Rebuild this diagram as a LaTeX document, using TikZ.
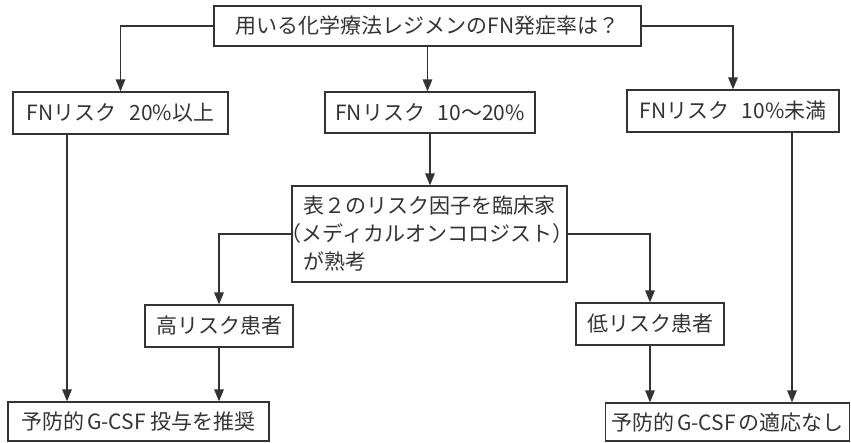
\documentclass[tikz,border=0pt]{standalone}
\usepackage{fontspec}
\setmainfont{Noto Sans CJK JP}
\usetikzlibrary{arrows.meta}
\definecolor{ink}{HTML}{333333}
\begin{document}
\begin{tikzpicture}[x=1pt,y=-1pt,
  box/.style={draw=ink, line width=1.2pt, text=ink, inner sep=0pt,
    font=\fontsize{21}{28}\selectfont, align=center},
  arr/.style={draw=ink, line width=1.4pt, -{Triangle[length=12pt,width=9.5pt]}},
  ln/.style={draw=ink, line width=1.4pt}]
\useasboundingbox (0,0) rectangle (851,443);
\node[box, minimum width=427pt, minimum height=40pt] (top) at (427.5,26) {用いる化学療法レジメンのFN発症率は？};
\node[box, minimum width=215pt, minimum height=42pt] (A) at (120.5,113) {FNリスク\hspace{0.6em}20\%以上};
\node[box, minimum width=210pt, minimum height=41pt] (B) at (430,112.5) {FNリスク\hspace{0.6em}10〜20\%};
\node[box, minimum width=212pt, minimum height=42pt] (C) at (733,111) {FNリスク\hspace{0.6em}10\%未満};
\node[box, align=left, text width=252pt, inner xsep=11.5pt, minimum height=96pt] (D) at (429.5,234)
  {表２のリスク因子を臨床家\\\hspace*{-23pt}（メディカルオンコロジスト）\\が熟考};
\node[box, minimum width=148pt, minimum height=42pt] (E) at (219,326) {高リスク患者};
\node[box, minimum width=148pt, minimum height=42pt] (F) at (650,324) {低リスク患者};
\node[box, minimum width=261pt, minimum height=39pt] (G) at (138.5,421.5) {予防的\hspace{3pt}G-CSF\hspace{5pt}投与を推奨};
\node[box, minimum width=244pt, minimum height=38pt] (H) at (727.5,422) {予防的\hspace{3pt}G-CSF\hspace{3pt}の適応なし};
% connectors
\draw[arr] (top.west) -| (A.north);
\draw[arr] (top.east) -| (C.north);
\draw[arr] (top.south) -- (top.south |- B.north);
\draw[arr] (B.south) -- (B.south |- D.north);
\draw[arr] (D.west) -| (E.north);
\draw[arr] (D.east) -| (F.north);
\draw[arr] ([xshift=-53.5pt]A.south) -- ([xshift=-53.5pt]A.south |- G.north);
\draw[arr] (E.south) -- (E.south |- G.north);
\draw[arr] ([xshift=59pt]C.south) -- ([xshift=59pt]C.south |- H.north);
\draw[arr] (F.south) -- (F.south |- H.north);
\end{tikzpicture}
\end{document}
